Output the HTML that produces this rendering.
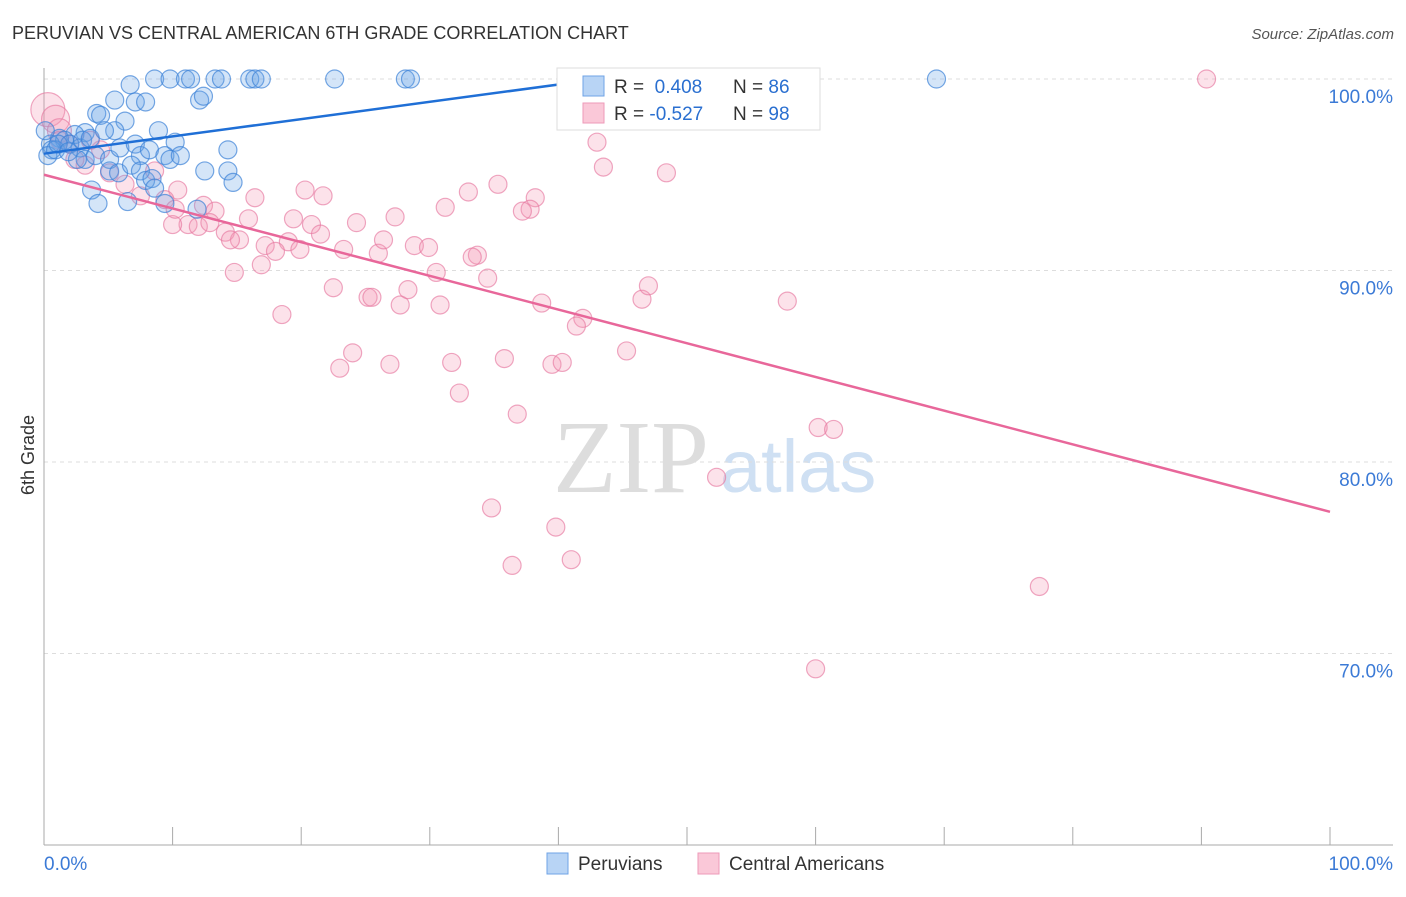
<!DOCTYPE html>
<html><head><meta charset="utf-8"><style>
body{margin:0;background:#fff;font-family:"Liberation Sans",sans-serif}
svg text{font-family:"Liberation Sans",sans-serif}
</style></head><body>
<svg id="c" width="1406" height="892">
<text x="12" y="39" font-size="18" fill="#333">PERUVIAN VS CENTRAL AMERICAN 6TH GRADE CORRELATION CHART</text>
<text x="1394" y="39" font-size="15" fill="#555" text-anchor="end" font-style="italic">Source: ZipAtlas.com</text>
<text x="553" y="492" font-size="104" fill="#ddd" style="font-family:'Liberation Serif',serif">ZIP</text>
<text x="720" y="492" font-size="74" fill="#cfe0f3">atlas</text>
<text transform="translate(34,455) rotate(-90)" font-size="18" fill="#333" text-anchor="middle">6th Grade</text>
<g id="grid"></g><g id="marks"></g>
<g>
<rect x="557" y="68" width="263" height="62" fill="#fff" stroke="#ddd"/>
<rect x="583" y="76" width="21" height="20" fill="#b8d4f5" stroke="#6fa3e6"/>
<rect x="583" y="103" width="21" height="20" fill="#fac8d8" stroke="#ee9ab8"/>
<text x="614" y="93" font-size="19" fill="#333">R = <tspan fill="#2a6fd0">&#160;0.408</tspan><tspan x="733">N = </tspan><tspan fill="#2a6fd0">86</tspan></text>
<text x="614" y="120" font-size="19" fill="#333">R = <tspan fill="#2a6fd0">-0.527</tspan><tspan x="733">N = </tspan><tspan fill="#2a6fd0">98</tspan></text>
</g>
<g>
<rect x="547" y="853" width="21" height="21" fill="#b8d4f5" stroke="#6fa3e6"/>
<text x="578" y="870" font-size="19" fill="#333">Peruvians</text>
<rect x="698" y="853" width="21" height="21" fill="#fac8d8" stroke="#ee9ab8"/>
<text x="729" y="870" font-size="19" fill="#333">Central Americans</text>
</g>
</svg>
<script>
const yTicks=[100,90,80,70];
const yTickLabels=["100.0%","90.0%","80.0%","70.0%"];
const xTicks=[0,10,20,30,40,50,60,70,80,90,100];
const blueX=[6.7,8.6,9.8,11.0,11.4,13.3,13.8,16.0,16.4,16.9,22.6,28.1,28.5,69.4,12.1,12.4,5.5,7.1,7.9,4.1,4.4,6.3,8.9,10.2,5.5,3.2,2.4,14.3,1.2,1.6,0.5,0.6,0.3,0.9,2.0,2.8,3.2,4.0,5.1,5.9,7.1,7.5,8.2,9.4,9.8,10.6,12.5,14.3,14.7,5.1,5.8,6.8,7.5,7.9,8.4,8.6,3.7,4.2,6.5,9.4,11.9,2.6,3.0,1.1,1.9,3.6,4.7,0.1];
const blueY=[99.7,100,100,100,100,100,100,100,100,100,100,100,100,100,98.9,99.1,98.9,98.8,98.8,98.2,98.1,97.8,97.3,96.7,97.3,97.2,97.1,96.3,96.9,96.8,96.6,96.3,96.0,96.3,96.6,96.4,95.8,96.0,95.8,96.4,96.6,96.0,96.3,96.0,95.8,96.0,95.2,95.2,94.6,95.2,95.1,95.5,95.2,94.7,94.8,94.3,94.2,93.5,93.6,93.5,93.2,95.8,96.8,96.6,96.2,96.9,97.3,97.3];
const pinkX=[0.3,0.9,1.2,90.4,49.1,43.0,43.5,48.4,35.3,33.0,38.2,20.3,21.7,16.4,31.2,37.8,37.2,27.3,24.3,12.4,13.3,11.2,10.0,12.0,14.1,15.9,19.4,20.8,21.5,15.2,14.5,17.2,19.0,18.0,19.9,23.3,26.0,26.4,28.8,29.9,33.7,33.3,30.5,34.5,14.8,16.9,18.5,22.5,25.2,25.5,27.7,28.3,30.8,38.7,41.9,41.4,46.5,47.0,57.8,24.0,23.0,26.9,31.7,35.8,39.5,40.3,45.3,32.3,36.8,60.2,61.4,52.3,34.8,39.8,36.4,41.0,77.4,60.0,10.4,9.4,6.3,7.5,5.1,3.2,4.4,3.6,2.4,1.2,2.0,10.2,12.9,8.6];
const pinkY=[98.4,97.9,97.3,100,99.9,96.7,95.4,95.1,94.5,94.1,93.8,94.2,93.9,93.8,93.3,93.2,93.1,92.8,92.5,93.4,93.1,92.4,92.4,92.3,92.0,92.7,92.7,92.4,91.9,91.6,91.6,91.3,91.5,91.0,91.1,91.1,90.9,91.6,91.3,91.2,90.8,90.7,89.9,89.6,89.9,90.3,87.7,89.1,88.6,88.6,88.2,89.0,88.2,88.3,87.5,87.1,88.5,89.2,88.4,85.7,84.9,85.1,85.2,85.4,85.1,85.2,85.8,83.6,82.5,81.8,81.7,79.2,77.6,76.6,74.6,74.9,73.5,69.2,94.2,93.7,94.5,93.9,95.1,95.5,96.3,96.8,95.8,96.8,96.6,93.2,92.5,95.2];
const pinkR=[17,14,12];
const blueTrend=[[0,96.1],[43.2,100]];
const pinkTrend=[[0,95.0],[100,77.4]];
const NS='http://www.w3.org/2000/svg';
const xs=v=>44+v*12.86, ys=v=>79+(100-v)*19.15;
function mk(tag,attrs,parent){const e=document.createElementNS(NS,tag);for(const k in attrs)e.setAttribute(k,attrs[k]);parent.appendChild(e);return e;}
const grid=document.getElementById('grid'), marks=document.getElementById('marks');
yTicks.forEach((t,i)=>{
 const l=mk('line',{x1:44,x2:1393,y1:ys(t),y2:ys(t),stroke:'#ddd','stroke-dasharray':'4,4'},grid);
 
 
 const tx=mk('text',{x:1393,y:ys(t)+24,'font-size':19,fill:'#3b7ad6','text-anchor':'end'},grid);
 tx.textContent=yTickLabels[i];
 
 
});
let a=mk('line',{x1:44,x2:44,y1:68,y2:845,stroke:'#aaa'},grid);


a=mk('line',{x1:44,x2:1393,y1:845,y2:845,stroke:'#aaa'},grid);


xTicks.forEach(t=>{if(t===0)return;const l=mk('line',{x1:xs(t),x2:xs(t),y1:827,y2:845,stroke:'#aaa'},grid);
 
 });
let t0=mk('text',{x:44,y:870,'font-size':19,fill:'#3b7ad6'},grid);t0.textContent='0.0%';


t0=mk('text',{x:1393,y:870,'font-size':19,fill:'#3b7ad6','text-anchor':'end'},grid);t0.textContent='100.0%';


pinkX.forEach((x,i)=>{const c=mk('circle',{cx:xs(x),cy:ys(pinkY[i]),r:pinkR[i]||9,fill:'rgba(245,150,180,0.28)',stroke:'rgba(230,120,160,0.65)','stroke-width':1.2},marks);
 
 });
blueX.forEach((x,i)=>{const c=mk('circle',{cx:xs(x),cy:ys(blueY[i]),r:9,fill:'rgba(100,160,230,0.28)',stroke:'rgba(60,130,215,0.7)','stroke-width':1.2},marks);
 
 });
let tl=mk('line',{x1:xs(blueTrend[0][0]),y1:ys(blueTrend[0][1]),x2:xs(blueTrend[1][0]),y2:ys(blueTrend[1][1]),stroke:'#1f6fd6','stroke-width':2.5},marks);


tl=mk('line',{x1:xs(pinkTrend[0][0]),y1:ys(pinkTrend[0][1]),x2:xs(pinkTrend[1][0]),y2:ys(pinkTrend[1][1]),stroke:'#e8679a','stroke-width':2.5},marks);


</script>
</body></html>
